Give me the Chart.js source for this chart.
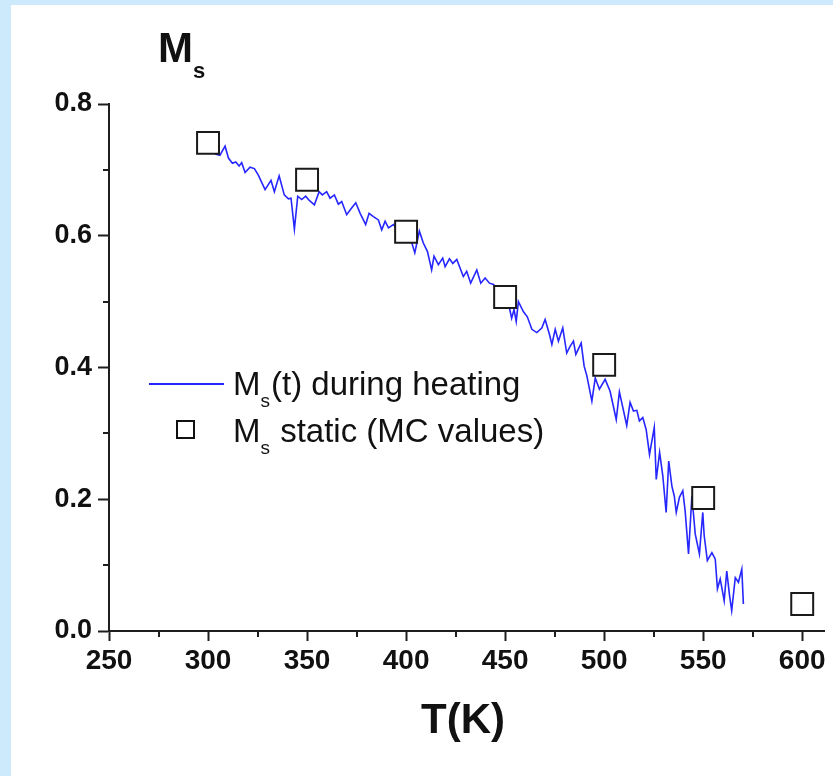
<!DOCTYPE html>
<html>
<head>
<meta charset="utf-8">
<script src="https://cdn.jsdelivr.net/npm/chart.js@4.4.1/dist/chart.umd.min.js"></script>
<style>
  html, body { margin: 0; padding: 0; background: #fff; }
  #wrap { width: 833px; height: 776px; }
</style>
</head>
<body>
<div id="wrap"><canvas id="msChart" width="833" height="776"></canvas></div>
<script>
// Monte Carlo static magnetisation values
var mcT = [300, 350, 400, 450, 500, 550, 600];
var mcMs = [0.741, 0.685, 0.606, 0.507, 0.404, 0.202, 0.041];

// Ms(t) sampled during heating
var heatT = [
  303.5, 306.0, 308.6, 310.3, 312.3, 314.0, 315.7, 317.0, 318.7, 321.2,
  323.4, 325.4, 328.8, 331.8, 333.5, 335.9, 338.5, 340.6, 341.9, 343.6,
  345.3, 347.3, 349.3, 351.0, 353.7, 356.1, 357.7, 359.9, 361.6, 363.8,
  365.8, 367.5, 370.0, 372.5, 374.6, 376.8, 379.6, 381.3, 383.5, 386.0,
  387.7, 389.4, 391.1, 393.6, 396.0, 399.0, 402.0, 404.4, 406.7, 408.7,
  410.8, 412.9, 414.1, 416.3, 418.5, 419.7, 421.9, 423.6, 425.6, 428.9,
  430.6, 432.6, 435.7, 437.7, 439.9, 442.1, 444.1, 446.5, 449.0, 452.2,
  453.3, 454.5, 455.6, 456.7, 459.2, 461.2, 463.5, 466.0, 468.5, 470.2,
  472.4, 473.6, 475.3, 476.9, 479.1, 481.1, 482.8, 484.5, 485.7, 488.4,
  489.9, 491.3, 493.8, 495.5, 497.6, 500.5, 503.0, 506.1, 507.7, 511.4,
  513.1, 514.8, 516.5, 517.8, 519.5, 521.2, 522.9, 525.3, 526.3, 528.0,
  529.6, 531.3, 532.6, 534.2, 535.4, 536.4, 538.0, 539.7, 540.9, 542.6,
  544.3, 546.0, 548.1, 549.8, 550.5, 552.1, 554.4, 556.1, 557.2, 558.6,
  560.6, 561.9, 563.3, 564.4, 566.2, 567.8, 569.5, 570.3
];
var heatMs = [
  0.724, 0.722, 0.736, 0.718, 0.710, 0.712, 0.706, 0.711, 0.696, 0.704,
  0.702, 0.692, 0.670, 0.684, 0.667, 0.691, 0.662, 0.656, 0.657, 0.610,
  0.660, 0.655, 0.660, 0.654, 0.647, 0.667, 0.662, 0.667, 0.657, 0.662,
  0.648, 0.652, 0.632, 0.642, 0.650, 0.634, 0.617, 0.634, 0.629, 0.624,
  0.609, 0.622, 0.612, 0.617, 0.608, 0.605, 0.598, 0.574, 0.607, 0.589,
  0.576, 0.548, 0.569, 0.556, 0.566, 0.553, 0.565, 0.558, 0.564, 0.538,
  0.546, 0.528, 0.548, 0.528, 0.536, 0.528, 0.526, 0.518, 0.512, 0.490,
  0.475, 0.488, 0.470, 0.500, 0.485, 0.477, 0.458, 0.453, 0.460, 0.473,
  0.450, 0.435, 0.458, 0.440, 0.460, 0.422, 0.432, 0.440, 0.420, 0.437,
  0.402, 0.387, 0.349, 0.384, 0.367, 0.382, 0.364, 0.321, 0.363, 0.312,
  0.347, 0.334, 0.335, 0.319, 0.324, 0.306, 0.268, 0.309, 0.230, 0.271,
  0.236, 0.180, 0.258, 0.220, 0.205, 0.180, 0.203, 0.213, 0.182, 0.117,
  0.205, 0.147, 0.117, 0.180, 0.145, 0.107, 0.119, 0.109, 0.064, 0.079,
  0.046, 0.091, 0.054, 0.031, 0.081, 0.074, 0.094, 0.041
];

var xTicks = [250, 300, 350, 400, 450, 500, 550, 600];
var xMinor = [275, 325, 375, 425, 475, 525, 575];
var yTicks = [0.0, 0.2, 0.4, 0.6, 0.8];
var yMinor = [0.1, 0.3, 0.5, 0.7];

var FONT = '"Liberation Sans", Arial, Helvetica, sans-serif';
var INK = '#111';
var AXIS = '#1e1e1e';
var BLUE = '#2626ff';

function toPoints(xs, ys) {
  return xs.map(function (x, i) { return { x: x, y: ys[i] }; });
}

// keep the axis boxes from reserving room for overhanging labels
function noOverhang(scale) {
  scale.paddingLeft = 0;
  scale.paddingRight = 0;
  scale.paddingTop = 0;
  scale.paddingBottom = 0;
}

// page frame, minor ticks, axis titles and legend
var decorations = {
  id: 'decorations',
  beforeDraw: function (chart) {
    var c = chart.ctx;
    c.save();
    c.fillStyle = '#cdeafc';
    c.fillRect(0, 0, chart.width, chart.height);
    c.fillStyle = '#ffffff';
    c.fillRect(11, 5, chart.width - 11, chart.height - 5);
    c.restore();
  },
  afterDraw: function (chart) {
    var c = chart.ctx;
    var xs = chart.scales.x, ys = chart.scales.y;
    var area = chart.chartArea;
    c.save();
    c.strokeStyle = AXIS;
    c.lineWidth = 2;
    c.beginPath();
    xMinor.forEach(function (v) {
      var px = Math.round(xs.getPixelForValue(v));
      c.moveTo(px, area.bottom);
      c.lineTo(px, area.bottom + 6);
    });
    yMinor.forEach(function (v) {
      var py = Math.round(ys.getPixelForValue(v));
      c.moveTo(area.left - 6, py);
      c.lineTo(area.left, py);
    });
    c.stroke();

    c.fillStyle = INK;
    c.textBaseline = 'alphabetic';

    // y title: M with subscript s
    c.font = 'bold 42px ' + FONT;
    c.fillText('M', 158, 62);
    c.font = 'bold 22px ' + FONT;
    c.fillText('s', 193, 78);

    // x title
    c.font = 'bold 42px ' + FONT;
    c.textAlign = 'center';
    c.fillText('T(K)', 463, 733);
    c.textAlign = 'left';

    // legend
    c.strokeStyle = BLUE;
    c.lineWidth = 2;
    c.beginPath();
    c.moveTo(149, 384);
    c.lineTo(224, 384);
    c.stroke();

    c.strokeStyle = INK;
    c.lineWidth = 2;
    c.fillStyle = '#fff';
    c.fillRect(177, 421, 17, 17);
    c.strokeRect(177, 421, 17, 17);

    c.fillStyle = INK;
    var rows = [
      { y: 395, rest: '(t) during heating' },
      { y: 442, rest: ' static (MC values)' }
    ];
    rows.forEach(function (r) {
      c.font = '33px ' + FONT;
      c.fillText('M', 233, r.y);
      var w = c.measureText('M').width;
      c.font = '19px ' + FONT;
      c.fillText('s', 233 + w, r.y + 12);
      var ws = c.measureText('s').width;
      c.font = '33px ' + FONT;
      c.fillText(r.rest, 233 + w + ws + 1, r.y);
    });
    c.restore();
  }
};

var ctx = document.getElementById('msChart');
var msChart = new Chart(ctx, {
  type: 'scatter',
  data: {
    datasets: [
      {
        label: 'Ms static (MC values)',
        data: toPoints(mcT, mcMs),
        pointStyle: 'rect',
        pointRadius: 15.5,
        pointHoverRadius: 15.5,
        borderColor: '#1a1a1a',
        backgroundColor: '#ffffff',
        borderWidth: 2,
        order: 0,
        clip: false
      },
      {
        label: 'Ms(t) during heating',
        data: toPoints(heatT, heatMs),
        showLine: true,
        borderColor: BLUE,
        borderWidth: 1.6,
        pointRadius: 0,
        tension: 0,
        order: 1
      }
    ]
  },
  options: {
    responsive: false,
    animation: false,
    events: [],
    layout: { autoPadding: false, padding: { top: 104, right: 9, left: 0, bottom: 0 } },
    plugins: {
      legend: { display: false },
      tooltip: { enabled: false },
      title: { display: false }
    },
    scales: {
      x: {
        type: 'linear',
        min: 250,
        max: 611,
        afterFit: function (scale) {
          scale.height = 145;
          noOverhang(scale);
        },
        afterBuildTicks: function (scale) {
          scale.ticks = xTicks.map(function (v) { return { value: v }; });
        },
        border: { display: true, color: AXIS, width: 2 },
        grid: { drawOnChartArea: false, drawTicks: true, tickLength: 10, tickColor: AXIS, tickWidth: 2 },
        ticks: {
          color: INK,
          padding: 3,
          maxRotation: 0,
          font: { family: FONT, size: 28, weight: 'bold' },
          callback: function (v) { return String(v); }
        }
      },
      y: {
        type: 'linear',
        min: 0,
        max: 0.8,
        afterFit: function (scale) {
          scale.width = 109;
          noOverhang(scale);
        },
        afterBuildTicks: function (scale) {
          scale.ticks = yTicks.map(function (v) { return { value: v }; });
        },
        border: { display: true, color: AXIS, width: 2 },
        grid: { drawOnChartArea: false, drawTicks: true, tickLength: 11, tickColor: AXIS, tickWidth: 2 },
        ticks: {
          color: INK,
          padding: 6,
          font: { family: FONT, size: 27, weight: 'bold' },
          callback: function (v) { return v.toFixed(1); }
        }
      }
    }
  },
  plugins: [decorations]
});
</script>
</body>
</html>
